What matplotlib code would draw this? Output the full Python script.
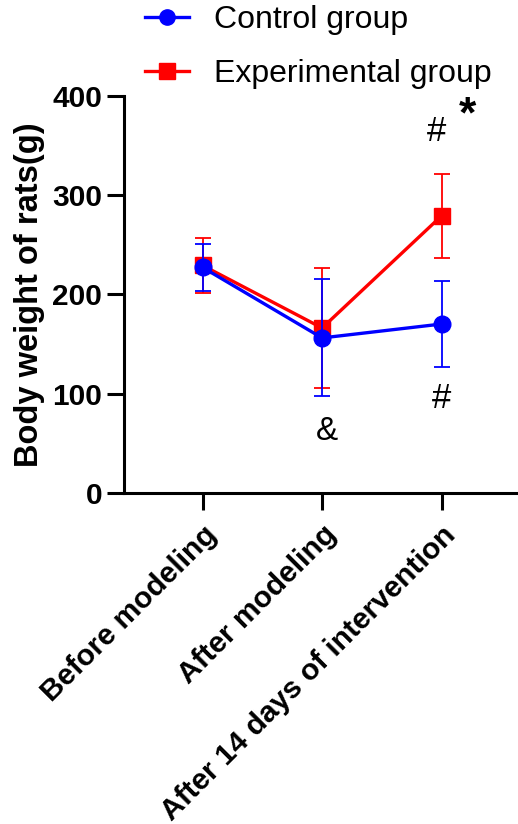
import matplotlib.pyplot as plt
from matplotlib.lines import Line2D
import numpy as np

plt.rcParams['font.family'] = ['Liberation Sans', 'DejaVu Sans']

# data
stages = ["Before modeling", "After modeling", "After 14 days of intervention"]
control_mean = [227, 156, 170]
control_sd = [24, 59, 43]
exp_mean = [229, 166, 279]
exp_sd = [28, 60, 42]

fig = plt.figure(figsize=(5.18, 8.24), dpi=100)
ax = fig.add_axes([0.239, 0.402, 0.761, 0.4818])

x = np.arange(len(stages))

ax.errorbar(x, exp_mean, yerr=exp_sd, color="#ff0000", marker="s", markersize=12,
            linewidth=2.4, elinewidth=1.3, capsize=6, capthick=1.3, zorder=2)
ax.errorbar(x, control_mean, yerr=control_sd, color="#0000ff", marker="o", markersize=12,
            linewidth=2.4, elinewidth=1.3, capsize=6, capthick=1.3, zorder=3)

# significance marks
ax.text(1.04, 62, "&", fontsize=24, ha="center", va="center")
ax.text(2.0, 95, "#", fontsize=25, ha="center", va="center")
ax.text(1.96, 364, "#", fontsize=25, ha="center", va="center")
ax.text(2.22, 380, "*", fontsize=32, fontweight="bold", ha="center", va="center")

ax.set_ylim(0, 400)
ax.set_xlim(-0.66, 2.64)
ax.set_yticks([0, 100, 200, 300, 400])
ax.set_xticks(x)
ax.set_xticklabels(stages, rotation=45, ha="right", rotation_mode="anchor",
                   fontsize=21.5, fontweight="bold")
for lab in ax.get_yticklabels():
    lab.set_fontweight("bold")
ax.tick_params(axis="y", labelsize=21.5, width=2.2, length=12)
ax.tick_params(axis="x", width=2.2, length=12, pad=8)
ax.set_ylabel("Body weight of rats(g)", fontsize=23.5, fontweight="bold", labelpad=5)

for s in ["top", "right"]:
    ax.spines[s].set_visible(False)
for s in ["left", "bottom"]:
    ax.spines[s].set_linewidth(2.2)

handles = [
    Line2D([], [], color="#0000ff", marker="o", markersize=11, linewidth=2.4),
    Line2D([], [], color="#ff0000", marker="s", markersize=11, linewidth=2.4),
]
fig.legend(handles, ["Control group", "Experimental group"], loc="upper left",
           bbox_to_anchor=(145 / 518, 0.994), frameon=False, fontsize=23,
           handlelength=1.37, handletextpad=0.8, labelspacing=0.75,
           borderpad=0, borderaxespad=0)

fig.savefig("out.png", dpi=100)
